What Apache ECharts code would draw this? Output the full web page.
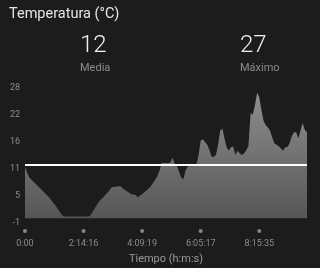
<!DOCTYPE html>
<html><head><meta charset="utf-8">
<script src="https://cdn.jsdelivr.net/npm/echarts@6/dist/echarts.min.js"></script>
<style>html,body{margin:0;padding:0;background:#1c1c1c;}#c{width:320px;height:268px;}</style>
</head><body><div id="c"></div>
<script>
const temps = [11.0,9.8,8.8,8.3,7.8,7.4,6.9,6.4,6.0,5.5,
5.0,4.6,4.0,3.3,2.8,2.1,1.4,0.7,0.4,0.4,
0.4,0.4,0.4,0.4,0.4,0.4,0.4,0.4,0.4,0.4,
0.5,1.3,2.0,2.8,3.5,4.1,4.5,5.0,5.5,6.1,
6.7,6.8,6.8,6.9,6.9,6.5,6.1,5.8,5.5,5.2,
5.1,5.0,4.5,4.9,5.2,5.6,6.0,6.4,6.9,7.6,
8.3,9.1,10.3,11.9,11.9,11.9,11.9,12.0,13.0,11.8,
11.4,10.0,8.8,8.4,10.2,11.1,11.3,11.4,11.4,11.5,
13.5,16.7,17.0,16.4,15.8,14.7,13.3,13.2,13.6,15.8,
18.8,19.3,17.1,15.2,14.5,15.3,15.4,13.6,14.5,14.0,
13.6,14.0,14.6,15.6,22.6,22.3,24.3,27.0,26.0,23.2,
20.9,20.0,19.5,18.8,17.3,16.1,15.8,15.5,15.0,14.5,
15.3,15.3,16.2,17.7,18.5,18.5,17.2,18.8,20.5,19.0,18.5];
const xTickLabels = ['0:00','2:14:16','4:09:19','6:05:17','8:15:35'];
const yTickLabels = ['-1','5','11','16','22','28'];
const meanValue = 11.6;
const summaryValues = ['12','27'];
const summaryLabels = ['Media','Máximo'];
const titleText = 'Temperatura (°C)';
const xName = 'Tiempo (h:m:s)';

const chart = echarts.init(document.getElementById('c'), null, {renderer:'canvas'});
const FONT = 'Roboto';
const TICK_STEP = 27;
const Y_MIN = -1;
const data = temps.map((v,i)=>[i,v]);
const tickDots = xTickLabels.map((_,k)=>[k*TICK_STEP, Y_MIN]);
chart.setOption({
  backgroundColor:'#1c1c1c',
  animation:false,
  title:{text:titleText,left:4,top:2,textStyle:{color:'#e6e6e6',fontSize:14.5,fontWeight:400,fontFamily:FONT}},
  graphic:[
    {type:'text',left:80,top:34,style:{text:summaryValues[0],fill:'#f0f0f0',font:'300 24px Roboto',textAlign:'center'}},
    {type:'text',left:80,top:63,style:{text:summaryLabels[0],fill:'#8c8c8c',font:'400 11px Roboto',textAlign:'center'}},
    {type:'text',left:240,top:34,style:{text:summaryValues[1],fill:'#f0f0f0',font:'300 24px Roboto',textAlign:'center'}},
    {type:'text',left:240,top:63,style:{text:summaryLabels[1],fill:'#8c8c8c',font:'400 11px Roboto',textAlign:'center'}}
  ],
  grid:{left:25,right:13,top:88,bottom:45,containLabel:false,outerBoundsMode:'none'},
  xAxis:{type:'value',min:0,max:temps.length-1,interval:TICK_STEP,
    name:xName,nameLocation:'middle',nameGap:31,
    nameTextStyle:{color:'#9a9a9a',fontSize:11,fontFamily:FONT},
    axisLine:{show:false},splitLine:{show:false},axisTick:{show:false},
    axisLabel:{color:'#8c8c8c',fontSize:9,fontFamily:FONT,margin:16,
      formatter:v=>{const k=Math.round(v/TICK_STEP);return xTickLabels[k]||'';}}},
  yAxis:{type:'value',min:Y_MIN,max:28,interval:5.8,
    axisLine:{show:false},axisTick:{show:false},splitLine:{show:false},
    axisLabel:{color:'#8c8c8c',fontSize:9,fontFamily:FONT,margin:5,
      formatter:v=>{const k=Math.round((v-Y_MIN)/5.8);return yTickLabels[k]!==undefined?yTickLabels[k]:'';}}},
  series:[{type:'line',data:data,symbol:'none',
    lineStyle:{width:0},
    areaStyle:{opacity:1,color:new echarts.graphic.LinearGradient(0,0,0,1,[{offset:0,color:'#8e8e8e'},{offset:1,color:'#565656'}])},
    markLine:{silent:true,symbol:'none',label:{show:false},
      lineStyle:{color:'#ffffff',width:2,type:'solid'},data:[{yAxis:meanValue}]}
  },{type:'scatter',data:tickDots,symbol:'circle',symbolSize:4,symbolOffset:[0,8],clip:false,silent:true,
    itemStyle:{color:'#a0a0a0'}}]
});
</script></body></html>
